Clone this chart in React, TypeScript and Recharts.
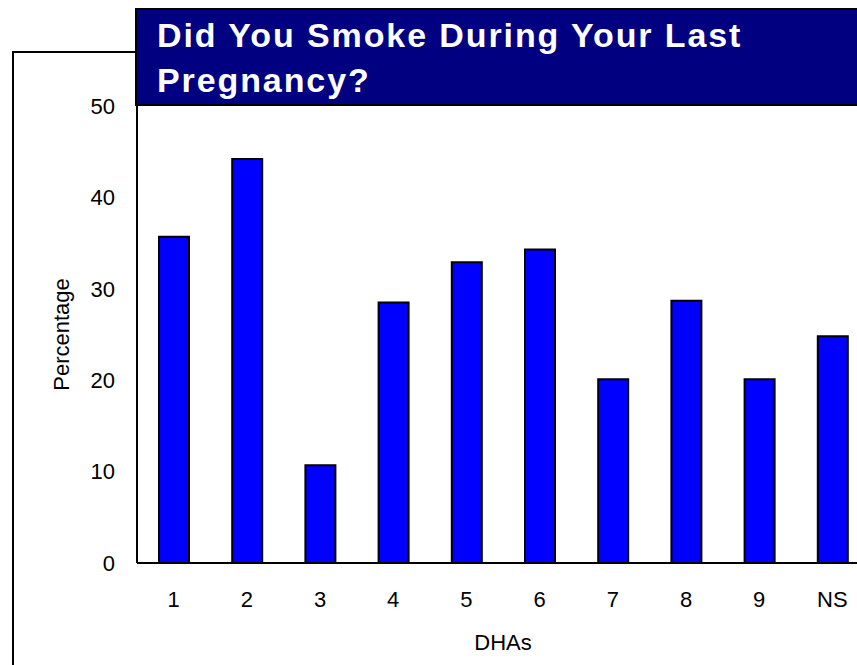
import React from 'react';
import { BarChart, Bar, XAxis, YAxis } from 'recharts';

const dhas = ['1', '2', '3', '4', '5', '6', '7', '8', '9', 'NS'];
const smokedPct = [35.7, 44.2, 10.7, 28.5, 32.9, 34.3, 20.1, 28.7, 20.1, 24.8];
const yTicks = [0, 10, 20, 30, 40, 50];

const data = dhas.map((name, i) => ({ name, value: smokedPct[i] }));

const font = '"Liberation Sans", Arial, sans-serif';

const YLabel = ({ viewBox }: any) => {
  const cx = viewBox.x + 61;
  const cy = viewBox.y + viewBox.height / 2;
  return (
    <text
      x={cx}
      y={cy}
      transform={`rotate(-90, ${cx}, ${cy})`}
      textAnchor="middle"
      dominantBaseline="central"
      fill="#000"
      style={{ fontFamily: font, fontSize: 22 }}
    >
      Percentage
    </text>
  );
};

const App: React.FC = () => {
  return (
    <div
      style={{
        position: 'absolute',
        left: 0,
        top: 0,
        width: 857,
        height: 665,
        overflow: 'hidden',
        background: '#fff',
        fontFamily: font,
      }}
    >
      {/* outer frame */}
      <div
        style={{
          position: 'absolute',
          left: 12,
          top: 51,
          width: 900,
          height: 700,
          border: '2px solid #000',
        }}
      />
      <div style={{ position: 'absolute', left: 0, top: 0 }}>
        <BarChart
          width={880}
          height={665}
          data={data}
          margin={{ top: 106, right: 11, bottom: 0, left: 0 }}
          barSize={30}
        >
          <XAxis
            dataKey="name"
            height={102}
            tickLine={false}
            tickSize={0}
            tickMargin={28}
            axisLine={{ stroke: '#000', strokeWidth: 2 }}
            tick={{ fill: '#000', fontSize: 22, fontFamily: font }}
            interval={0}
            label={{
              value: 'DHAs',
              position: 'insideBottom',
              offset: 15,
              fill: '#000',
              fontSize: 22,
              fontFamily: font,
            }}
          />
          <YAxis
            width={137}
            domain={[0, 50]}
            ticks={yTicks}
            tickLine={false}
            tickSize={0}
            tickMargin={22}
            axisLine={{ stroke: '#000', strokeWidth: 2 }}
            tick={{ fill: '#000', fontSize: 22, fontFamily: font }}
            label={{ content: YLabel }}
          />
          <Bar
            dataKey="value"
            fill="#0000FF"
            stroke="#000"
            strokeWidth={2}
            isAnimationActive={false}
          />
        </BarChart>
      </div>
      {/* title banner */}
      <div
        style={{
          position: 'absolute',
          left: 135,
          top: 8,
          width: 760,
          height: 98,
          boxSizing: 'border-box',
          background: '#000080',
          border: '2px solid #000',
          color: '#fff',
          fontWeight: 'bold',
          fontSize: 34,
          letterSpacing: 1.9,
          lineHeight: '45px',
          paddingTop: 3,
          paddingLeft: 20,
        }}
      >
        Did You Smoke During Your Last
        <br />
        Pregnancy?
      </div>
    </div>
  );
};

export default App;
